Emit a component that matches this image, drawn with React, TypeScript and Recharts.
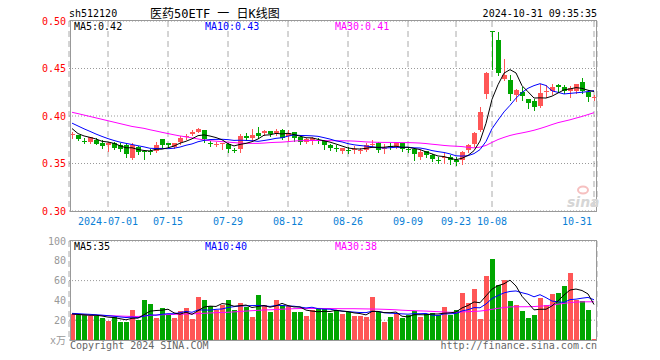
import React from 'react';
import { ComposedChart, Bar, Line, XAxis, YAxis, CartesianGrid } from 'recharts';

const dates = [
  '2024-06-21','2024-06-24','2024-06-25','2024-06-26','2024-06-27','2024-06-28',
  '2024-07-01','2024-07-02','2024-07-03','2024-07-04','2024-07-05','2024-07-08','2024-07-09','2024-07-10','2024-07-11','2024-07-12',
  '2024-07-15','2024-07-16','2024-07-17','2024-07-18','2024-07-19','2024-07-22','2024-07-23','2024-07-24','2024-07-25','2024-07-26',
  '2024-07-29','2024-07-30','2024-07-31',
  '2024-08-01','2024-08-02','2024-08-05','2024-08-06','2024-08-07','2024-08-08','2024-08-09','2024-08-12','2024-08-13','2024-08-14',
  '2024-08-15','2024-08-16','2024-08-19','2024-08-20','2024-08-21','2024-08-22','2024-08-23','2024-08-26','2024-08-27','2024-08-28',
  '2024-08-29','2024-08-30',
  '2024-09-02','2024-09-03','2024-09-04','2024-09-05','2024-09-06','2024-09-09','2024-09-10','2024-09-11','2024-09-12','2024-09-13',
  '2024-09-18','2024-09-19','2024-09-20','2024-09-23','2024-09-24','2024-09-25','2024-09-26','2024-09-27','2024-09-30',
  '2024-10-08','2024-10-09','2024-10-10','2024-10-11','2024-10-14','2024-10-15','2024-10-16','2024-10-17','2024-10-18',
  '2024-10-21','2024-10-22','2024-10-23','2024-10-24','2024-10-25','2024-10-28','2024-10-29','2024-10-30','2024-10-31',
];

const opens = [
  0.3805,0.380,0.3742,0.373,0.3747,0.372,0.369,0.372,0.3695,0.3695,
  0.3555,0.367,0.3635,0.3627,0.3635,0.3754,0.3712,0.3677,0.373,0.3775,
  0.3807,0.3835,0.3853,0.3714,0.3706,0.3705,0.3705,0.3644,0.365,0.379,
  0.377,0.3825,0.3818,0.3842,0.3818,0.3853,0.379,0.3828,0.3782,0.373,
  0.3747,0.3749,0.374,0.3695,0.3662,0.3635,0.3644,0.3645,0.3638,0.3642,
  0.3705,0.372,0.3655,0.3686,0.367,0.3712,0.3652,0.365,0.3572,0.3632,
  0.359,0.3539,0.3555,0.357,0.3542,0.3542,0.364,0.371,0.385,0.4232,
  0.489,0.4803,0.4385,0.4378,0.4221,0.4256,0.418,0.4159,0.4106,0.4258,
  0.4266,0.4322,0.4308,0.4266,0.4266,0.4361,0.4256,0.4195,
];
const highs = [
  0.3834,0.3805,0.377,0.378,0.3765,0.3747,0.373,0.3728,0.372,0.3715,
  0.3715,0.3685,0.364,0.365,0.3722,0.3755,0.372,0.3715,0.3789,0.381,
  0.385,0.3877,0.3855,0.374,0.3727,0.3715,0.3715,0.3667,0.381,0.3825,
  0.386,0.388,0.3853,0.3845,0.386,0.386,0.3853,0.383,0.3785,0.3765,
  0.3775,0.3772,0.3745,0.370,0.3695,0.3665,0.3677,0.368,0.366,0.372,
  0.3747,0.373,0.3705,0.372,0.372,0.372,0.3677,0.3655,0.364,0.3635,
  0.3597,0.3565,0.3614,0.3587,0.357,0.3636,0.370,0.3827,0.41,0.4458,
  0.489,0.4883,0.4605,0.443,0.428,0.4308,0.4183,0.4176,0.4333,0.4326,
  0.4336,0.4333,0.4326,0.4319,0.4336,0.4395,0.4273,0.4221,
];
const lows = [
  0.3765,0.3745,0.3712,0.372,0.370,0.3667,0.3635,0.365,0.3635,0.3565,
  0.3545,0.3597,0.3545,0.3597,0.3625,0.3677,0.3677,0.3665,0.370,0.376,
  0.3797,0.383,0.3723,0.3684,0.368,0.365,0.3625,0.362,0.362,0.375,
  0.3745,0.3765,0.380,0.379,0.380,0.3754,0.374,0.374,0.3705,0.3712,
  0.3705,0.372,0.3652,0.3642,0.3632,0.3614,0.3607,0.3607,0.361,0.3635,
  0.368,0.3618,0.3614,0.365,0.366,0.3628,0.3625,0.3537,0.3545,0.3565,
  0.3527,0.351,0.351,0.349,0.3483,0.349,0.362,0.368,0.3838,0.4186,
  0.4495,0.443,0.4378,0.4169,0.4159,0.4169,0.4089,0.4065,0.4092,0.4204,
  0.4232,0.4256,0.4246,0.4204,0.4239,0.4246,0.4159,0.4169,
];
const closes = [
  0.381,0.3755,0.374,0.3775,0.371,0.3688,0.3719,0.3667,0.3653,0.3597,
  0.3695,0.3625,0.3617,0.3625,0.369,0.370,0.3695,0.3712,0.3772,0.3793,
  0.3828,0.386,0.3754,0.3712,0.371,0.3712,0.365,0.3642,0.379,0.3765,
  0.3805,0.379,0.3842,0.3807,0.3842,0.3772,0.3825,0.3772,0.373,0.3758,
  0.3765,0.3747,0.3695,0.366,0.366,0.366,0.3642,0.3652,0.3645,0.370,
  0.371,0.3642,0.366,0.3684,0.3712,0.365,0.365,0.3597,0.3625,0.359,
  0.3545,0.3537,0.357,0.3535,0.3514,0.3618,0.369,0.382,0.404,0.4448,
  0.488,0.4455,0.443,0.4228,0.4273,0.4211,0.4134,0.41,0.4239,0.4263,
  0.4308,0.4301,0.4263,0.429,0.4333,0.4266,0.4204,0.4197,
];

const ma5 = [
  0.3868,0.3815,0.379,0.3775,0.3758,0.3734,0.3726,0.3712,0.3687,0.3665,
  0.3666,0.3647,0.3637,0.3632,0.365,0.3651,0.3665,0.3684,0.3714,0.3734,
  0.376,0.3793,0.3801,0.3789,0.3773,0.375,0.3708,0.3685,0.3701,0.3712,
  0.373,0.3758,0.3798,0.3802,0.3817,0.3811,0.3818,0.3804,0.3788,0.3771,
  0.377,0.3754,0.3739,0.3725,0.3705,0.3684,0.3663,0.3655,0.3652,0.366,
  0.367,0.367,0.3671,0.3679,0.3682,0.367,0.3671,0.3659,0.3647,0.3622,
  0.3601,0.3579,0.3573,0.3555,0.354,0.3555,0.3585,0.3635,0.3736,0.3923,
  0.4176,0.4329,0.4451,0.4488,0.4453,0.4319,0.4255,0.4189,0.4191,0.4189,
  0.4209,0.4242,0.4275,0.4285,0.4299,0.4291,0.4271,0.4258,
];
const ma10 = [
  0.3925,0.3895,0.3865,0.3838,0.381,0.3785,0.3762,0.3742,0.3725,0.3712,
  0.37,0.3687,0.3675,0.366,0.3658,0.3659,0.3656,0.3661,0.3673,0.3692,
  0.3706,0.3729,0.3743,0.3752,0.3754,0.3755,0.3751,0.3743,0.3745,0.3743,
  0.374,0.3733,0.3742,0.3752,0.3765,0.3771,0.3788,0.3801,0.3795,0.3794,
  0.3791,0.3786,0.3772,0.3757,0.3738,0.3727,0.3709,0.3697,0.3689,0.3683,
  0.3677,0.3667,0.3663,0.3666,0.3671,0.367,0.3671,0.3665,0.3663,0.3652,
  0.3636,0.3625,0.3616,0.3601,0.3581,0.3578,0.3582,0.3604,0.3646,0.3732,
  0.3866,0.3957,0.4043,0.4112,0.4188,0.4248,0.4292,0.432,0.434,0.4321,
  0.4264,0.4249,0.4232,0.4238,0.4244,0.425,0.4257,0.4267,
];
const ma30 = [
  0.4039,0.4025,0.401,0.3995,0.398,0.3965,0.395,0.3935,0.392,0.3905,
  0.389,0.388,0.387,0.3855,0.3842,0.3828,0.3815,0.3802,0.379,0.378,
  0.377,0.3758,0.3748,0.374,0.3735,0.373,0.3725,0.372,0.3715,0.3712,
  0.3712,0.3712,0.3715,0.372,0.3723,0.3725,0.373,0.3736,0.374,0.3741,
  0.3742,0.3742,0.3741,0.374,0.374,0.3739,0.3738,0.3736,0.3732,0.3727,
  0.3725,0.3723,0.3722,0.3722,0.3721,0.372,0.372,0.3718,0.3715,0.371,
  0.3703,0.3697,0.369,0.3685,0.3682,0.3678,0.367,0.3665,0.3672,0.369,
  0.3722,0.3752,0.3775,0.3795,0.381,0.3822,0.3835,0.385,0.3868,0.3888,
  0.391,0.393,0.3945,0.396,0.3978,0.3995,0.4015,0.4035,
];

const volumes = [
  26.2,25.2,25.2,24.2,24.2,22.5,19.5,22.9,18.5,18.5,
  30.3,20.2,40.3,36.3,21.8,31.9,25.2,21.8,29.6,31.9,
  20.8,43.7,40.3,34.3,30.3,35.3,40.3,30.3,37,33.6,
  22.9,45.4,35.3,28.6,40.3,35.3,34.3,28.6,28.6,24.2,
  30.3,30.9,30.9,27.6,30.3,26.2,28.6,24.2,24.2,23.5,
  43.7,28.6,18.5,23.5,26.9,22.5,25.2,29.6,23.5,26.2,
  26.9,25.2,33.6,25.2,30.3,47.7,37.6,51.4,21.2,64.9,
  81.7,55.5,60.5,39.7,35.3,29.6,22.5,25.2,42.7,35.3,
  46.7,47.7,54.8,67.9,40.3,39.3,30.3,1.3,
];
const volMa5 = [
  26.2,25.8,25.4,25.0,25.0,24.26,23.12,22.66,21.52,20.38,
  21.94,22.08,25.56,29.12,29.78,30.1,31.1,27.4,26.06,28.08,
  25.86,29.56,33.26,34.2,33.88,36.78,36.1,34.1,34.64,35.3,
  32.82,33.84,34.84,33.16,34.5,36.98,34.76,33.42,33.42,30.2,
  29.2,28.52,28.98,28.78,30,29.18,28.72,27.38,26.7,25.34,
  28.84,28.84,27.7,27.56,28.24,24,23.32,25.54,25.54,25.4,
  26.28,26.28,27.08,27.42,28.24,32.4,34.88,38.44,37.64,44.56,
  51.36,54.94,56.76,60.46,54.54,44.12,37.52,30.46,31.06,31.06,
  34.48,39.52,45.44,50.48,51.48,50,46.52,35.82,
];
const volMa10 = [
  26.9,26.6,26.2,25.9,25.5,25.1,24.6,24.0,23.3,22.69,
  23.1,22.6,24.11,25.32,25.08,26.02,26.59,26.48,27.59,28.93,
  27.98,30.33,30.33,30.13,30.98,31.32,32.83,33.68,34.42,34.59,
  34.8,34.97,34.47,33.9,34.9,34.9,34.3,34.13,33.29,32.35,
  33.09,31.64,31.2,31.1,30.1,29.19,28.62,28.18,27.74,27.67,
  29.01,28.78,27.54,27.13,26.79,26.42,26.08,26.62,26.55,26.82,
  25.14,24.8,26.31,26.48,26.82,29.34,30.58,32.76,32.53,36.4,
  41.88,44.91,47.6,49.05,49.55,47.74,46.23,43.61,45.76,42.8,
  39.3,38.52,37.95,40.77,41.27,42.24,43.02,40.63,
];
const volMa30 = [
  25.9,25.7,25.5,25.2,25.0,24.8,24.6,24.4,24.2,24.0,
  23.8,23.8,24.2,24.8,25.2,25.5,25.7,25.9,26.0,26.2,
  26.4,26.7,27.0,27.3,27.6,27.8,28.0,28.4,28.8,29.2,
  29.6,30.0,30.3,30.5,30.8,31.1,31.4,31.6,31.8,31.9,
  31.9,31.9,31.8,31.8,31.7,31.6,31.6,31.6,31.5,31.4,
  31.3,31.2,31.0,30.8,30.5,30.1,29.8,29.6,29.4,29.2,
  28.9,28.6,28.3,28.0,27.9,28.3,28.6,28.9,29.2,30.0,
  31.0,32.0,32.8,33.4,33.6,33.6,33.6,33.8,34.2,34.6,
  35.3,36.2,37.0,37.8,38.3,38.5,38.6,38.6,
];

const dateTicks = ['2024-07-01','2024-07-15','2024-07-29','2024-08-12','2024-08-26','2024-09-09','2024-09-23','2024-10-08','2024-10-31'];
const priceTicks = [0.3, 0.35, 0.4, 0.45, 0.5];
const volumeTicks = [0, 20, 40, 60, 80, 100];

const RED = '#ff5656';
const GREEN = '#00a600';
const MONO = '"DejaVu Sans Mono", monospace';
const CJK = '"DejaVu Sans Mono", "Noto Sans CJK SC", monospace';

const rows = dates.map((d, i) => ({
  date: d,
  open: opens[i],
  high: highs[i],
  low: lows[i],
  close: closes[i],
  range: [lows[i], highs[i]],
  ma5: ma5[i],
  ma10: ma10[i],
  ma30: ma30[i],
  vol: volumes[i],
  vma5: volMa5[i],
  vma10: volMa10[i],
  vma30: volMa30[i],
}));

const Candle = (props: any) => {
  const { x, y, width, height, payload } = props;
  if (x == null || y == null || !payload) return null;
  const top = Math.min(y, y + height);
  const bottom = Math.max(y, y + height);
  const span = payload.high - payload.low;
  const toY = (v: number) => (span > 0 ? top + ((payload.high - v) / span) * (bottom - top) : top);
  const p = Math.floor(x + width / 2);
  const color = payload.close >= payload.open ? RED : GREEN;
  const yo = toY(payload.open);
  const yc = toY(payload.close);
  const bTop = Math.round(Math.min(yo, yc));
  const bH = Math.max(1, Math.round(Math.max(yo, yc)) - bTop);
  return (
    <g shapeRendering="crispEdges">
      <line x1={p + 0.5} x2={p + 0.5} y1={Math.round(top)} y2={Math.round(bottom) + 1} stroke={color} strokeWidth={1} />
      <rect x={p - 2} y={bTop} width={5} height={bH} fill={color} />
    </g>
  );
};

const VolBar = (props: any) => {
  const { x, y, width, height, payload } = props;
  if (x == null || y == null || !payload) return null;
  const p = Math.floor(x + width / 2);
  const t = Math.round(y);
  const b = Math.round(y + height);
  const color = payload.close >= payload.open ? RED : GREEN;
  return <rect x={p - 2} y={t} width={5} height={Math.max(1, b - t)} fill={color} shapeRendering="crispEdges" />;
};

const DateTick = (props: any) => {
  const { x, y, payload } = props;
  const v: string = payload.value;
  const isFirst = v === dateTicks[0];
  const isLast = v === dateTicks[dateTicks.length - 1];
  const label = isFirst ? v : v.slice(5);
  return (
    <text x={isLast ? x - 2 : x} y={y} dy={14} textAnchor={isLast ? 'end' : 'middle'} fill="#0b7fd6" fontSize={10} fontFamily={MONO}>
      {label}
    </text>
  );
};

export default function App() {
  return (
    <div style={{ position: 'absolute', left: 0, top: 0, width: 660, height: 360, background: '#fff', overflow: 'hidden' }}>
      <div style={{ position: 'absolute', left: 0, top: 0 }}>
        <ComposedChart width={660} height={230} data={rows} margin={{ top: 21, right: 63, bottom: 0, left: 0 }}>
          <CartesianGrid horizontal={false} stroke="#aaa" strokeDasharray="6 4" />
          <CartesianGrid vertical={false} stroke="#999" strokeDasharray="1 2" />
          <XAxis
            dataKey="date"
            ticks={dateTicks}
            interval={0}
            height={19}
            axisLine={false}
            tickLine={false}
            tickSize={0}
            tickMargin={0}
            tick={<DateTick />}
          />
          <YAxis
            domain={[0.3, 0.5]}
            ticks={priceTicks}
            allowDataOverflow
            width={69}
            axisLine={false}
            tickLine={false}
            tickSize={1}
            tickMargin={2}
            tickFormatter={(v: number) => v.toFixed(2)}
            tick={{ fill: '#f00', fontSize: 10, fontFamily: MONO }}
          />
          <Bar dataKey="range" barSize={5} shape={<Candle />} isAnimationActive={false} />
          <Line dataKey="ma30" stroke="#ff00ff" strokeWidth={1} dot={false} type="linear" isAnimationActive={false} />
          <Line dataKey="ma10" stroke="#0000ff" strokeWidth={1} dot={false} type="linear" isAnimationActive={false} />
          <Line dataKey="ma5" stroke="#000" strokeWidth={1} dot={false} type="linear" isAnimationActive={false} />
        </ComposedChart>
      </div>
      <div style={{ position: 'absolute', left: 0, top: 230 }}>
        <ComposedChart width={660} height={130} data={rows} margin={{ top: 11, right: 63, bottom: 20, left: 0 }}>
          <CartesianGrid horizontal={false} stroke="#aaa" strokeDasharray="6 4" />
          <CartesianGrid vertical={false} stroke="#999" strokeDasharray="1 2" />
          <XAxis dataKey="date" ticks={dateTicks} interval={0} height={0} axisLine={false} tickLine={false} tick={false} />
          <YAxis
            domain={[0, 100]}
            ticks={volumeTicks}
            allowDataOverflow
            width={69}
            axisLine={false}
            tickLine={false}
            tickSize={1}
            tickMargin={2}
            tickFormatter={(v: number) => (v === 0 ? 'x万' : String(v))}
            tick={{ fill: '#999', fontSize: 10, fontFamily: CJK }}
          />
          <Bar dataKey="vol" barSize={5} shape={<VolBar />} isAnimationActive={false} />
          <Line dataKey="vma30" stroke="#ff00ff" strokeWidth={1} dot={false} type="linear" isAnimationActive={false} />
          <Line dataKey="vma10" stroke="#0000ff" strokeWidth={1} dot={false} type="linear" isAnimationActive={false} />
          <Line dataKey="vma5" stroke="#000" strokeWidth={1} dot={false} type="linear" isAnimationActive={false} />
        </ComposedChart>
      </div>
      <div style={{ position: 'absolute', left: 70, top: 20, width: 527, height: 192, border: '1px solid #999', boxSizing: 'border-box' }} />
      <div style={{ position: 'absolute', left: 70, top: 240, width: 527, height: 101, border: '1px solid #999', boxSizing: 'border-box' }} />
      <svg width={660} height={360} style={{ position: 'absolute', left: 0, top: 0, pointerEvents: 'none' }}>
        <text x={69} y={17} fontSize={10} fontFamily={MONO} fill="#000">sh512120</text>
        <text x={150} y={17.5} fontSize={12} fontFamily={CJK} fill="#000">医药50ETF 一 日K线图</text>
        <text x={597} y={17} fontSize={10} fontFamily={MONO} fill="#000" textAnchor="end">2024-10-31 09:35:35</text>
        <text x={74} y={30} fontSize={10} fontFamily={MONO} fill="#000">MA5:0.42</text>
        <text x={205} y={30} fontSize={10} fontFamily={MONO} fill="#0000ff">MA10:0.43</text>
        <text x={335} y={30} fontSize={10} fontFamily={MONO} fill="#ff00ff">MA30:0.41</text>
        <text x={74} y={250} fontSize={10} fontFamily={MONO} fill="#000">MA5:35</text>
        <text x={205} y={250} fontSize={10} fontFamily={MONO} fill="#0000ff">MA10:40</text>
        <text x={335} y={250} fontSize={10} fontFamily={MONO} fill="#ff00ff">MA30:38</text>
        <ellipse cx={583} cy={190} rx={5} ry={3.5} fill="none" stroke="#f6c0c0" strokeWidth={2} />
        <text x={567} y={207} fontSize={14} fontStyle="italic" fontWeight="bold" fontFamily="DejaVu Sans" fill="#d6d6d6">sina</text>
        <text x={70} y={349} fontSize={10} fontFamily={MONO} fill="#666">Copyright 2024 SINA.COM</text>
        <text x={597} y={349} fontSize={10} fontFamily={MONO} fill="#666" textAnchor="end">http://finance.sina.com.cn</text>
      </svg>
    </div>
  );
}
